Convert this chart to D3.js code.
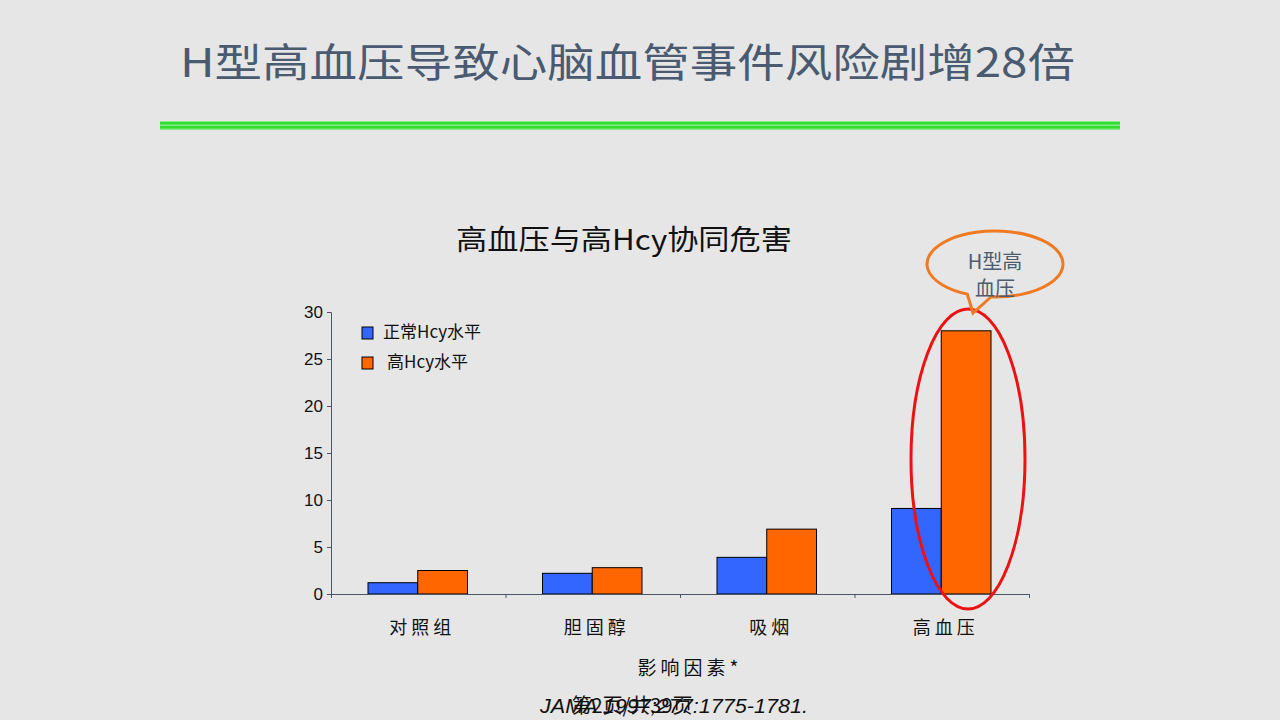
<!DOCTYPE html>
<html>
<head>
<meta charset="utf-8">
<script src="https://cdn.jsdelivr.net/npm/d3@7"></script>
<style>
  html, body { margin: 0; padding: 0; background: #e6e6e6; }
  svg { display: block; }
</style>
</head>
<body>
<svg id="chart" width="1280" height="720"></svg>
<script>
var categories = ["对照组", "胆固醇", "吸烟", "高血压"];
var seriesNames = ["正常Hcy水平", "高Hcy水平"];
var normalHcy = [1.2, 2.2, 3.9, 9.1];
var highHcy = [2.5, 2.8, 6.9, 28];
var yTicks = [0, 5, 10, 15, 20, 25, 30];
var colors = ["#3366ff", "#ff6600"];

const svg = d3.select("#chart");
const cjk = "'Noto Sans CJK SC', sans-serif";
const axisColor = "#4a5568";

svg.append("rect").attr("width", 1280).attr("height", 720).attr("fill", "#e6e6e6");

// Slide title
svg.append("text")
  .attr("x", 180).attr("y", 77)
  .attr("font-family", cjk)
  .attr("font-size", 40)
  .attr("fill", "#4a5a70")
  .attr("textLength", 895)
  .attr("lengthAdjust", "spacingAndGlyphs")
  .text("H型高血压导致心脑血管事件风险剧增28倍");

// Green rule
svg.append("rect").attr("x", 160).attr("y", 121).attr("width", 960).attr("height", 9).attr("fill", "#86ec86");
svg.append("rect").attr("x", 160).attr("y", 122).attr("width", 960).attr("height", 2.5).attr("fill", "#2fdc2f");
svg.append("rect").attr("x", 160).attr("y", 126).attr("width", 960).attr("height", 2.5).attr("fill", "#2fdc2f");

// Chart title
svg.append("text")
  .attr("x", 456).attr("y", 250)
  .attr("font-family", cjk)
  .attr("font-size", 28)
  .attr("fill", "#111")
  .attr("textLength", 336)
  .attr("lengthAdjust", "spacingAndGlyphs")
  .text("高血压与高Hcy协同危害");

// Scales
const x0 = d3.scaleBand().domain(categories).range([331, 1029]).paddingInner(0).paddingOuter(0);
const x1 = d3.scaleBand().domain([0, 1]).range([37, x0.bandwidth() - 38]);
const y = d3.scaleLinear().domain([0, 30]).range([594, 312]);

// Y axis
const yAxis = svg.append("g")
  .attr("transform", "translate(331,0)")
  .call(d3.axisLeft(y).tickValues(yTicks).tickSize(4).tickPadding(4));
yAxis.select(".domain").attr("stroke", axisColor);
yAxis.selectAll(".tick line").attr("stroke", axisColor);
yAxis.selectAll(".tick text")
  .attr("font-family", "'Liberation Sans', Arial, sans-serif")
  .attr("font-size", 17)
  .attr("fill", "#111");

// Bars
var rows = categories.map(function(c, i) { return { cat: c, vals: [normalHcy[i], highHcy[i]] }; });
const groups = svg.selectAll("g.grp")
  .data(rows)
  .enter()
  .append("g")
    .attr("class", "grp")
    .attr("transform", function(d) { return "translate(" + x0(d.cat) + ",0)"; });
groups.selectAll("rect")
  .data(function(d) { return d.vals; })
  .enter()
  .append("rect")
    .attr("x", function(d, i) { return x1(i); })
    .attr("y", function(d) { return y(d); })
    .attr("width", x1.bandwidth())
    .attr("height", function(d) { return y(0) - y(d); })
    .attr("fill", function(d, i) { return colors[i]; })
    .attr("stroke", "#000")
    .attr("stroke-width", 1);

// X axis
const xScaleLin = d3.scaleLinear().domain([0, categories.length]).range([331, 1029]);
const xAxis = svg.append("g")
  .attr("transform", "translate(0,594)")
  .call(d3.axisBottom(xScaleLin).tickValues(d3.range(categories.length + 1)).tickSize(4).tickFormat(""));
xAxis.select(".domain").attr("stroke", axisColor);
xAxis.selectAll(".tick line").attr("stroke", axisColor);

svg.selectAll("text.cat")
  .data(categories)
  .enter()
  .append("text")
    .attr("class", "cat")
    .attr("x", function(d) { return x0(d) + x0.bandwidth() / 2 + 4; })
    .attr("y", 634)
    .attr("text-anchor", "middle")
    .attr("font-family", cjk)
    .attr("font-size", 18)
    .attr("letter-spacing", 4)
    .attr("fill", "#111")
    .text(function(d) { return d; });

svg.append("text")
  .attr("x", 690).attr("y", 675)
  .attr("text-anchor", "middle")
  .attr("font-family", cjk)
  .attr("font-size", 19)
  .attr("letter-spacing", 4)
  .attr("fill", "#111")
  .text("影响因素*");

// Legend
const legend = svg.selectAll("g.leg")
  .data(seriesNames)
  .enter()
  .append("g")
    .attr("class", "leg")
    .attr("transform", function(d, i) { return "translate(362," + (327 + i * 30) + ")"; });
legend.append("rect")
  .attr("width", 11).attr("height", 12)
  .attr("fill", function(d, i) { return colors[i]; })
  .attr("stroke", "#000");
legend.append("text")
  .attr("x", function(d, i) { return i === 0 ? 21 : 25; })
  .attr("y", 11)
  .attr("font-family", cjk)
  .attr("font-size", 17)
  .attr("fill", "#111")
  .text(function(d) { return d; });

// Red ellipse highlight
svg.append("ellipse")
  .attr("cx", 968).attr("cy", 459)
  .attr("rx", 57).attr("ry", 150)
  .attr("fill", "none")
  .attr("stroke", "#ee1111")
  .attr("stroke-width", 3);

// Callout bubble
const cx = 995, cy = 264, rx = 68, ry = 33;
const a1 = Math.PI / 2 + 0.42, a2 = Math.PI / 2 + 0.06;
const p1 = [cx + rx * Math.cos(a1), cy + ry * Math.sin(a1)];
const p2 = [cx + rx * Math.cos(a2), cy + ry * Math.sin(a2)];
const bubble = "M" + p2[0] + "," + p2[1] +
  " A" + rx + "," + ry + " 0 1 0 " + p1[0] + "," + p1[1] +
  " L973,313 Z";
svg.append("path")
  .attr("d", bubble)
  .attr("fill", "none")
  .attr("stroke", "#f07a22")
  .attr("stroke-width", 3)
  .attr("stroke-linejoin", "miter");
svg.append("text")
  .attr("x", 995).attr("y", 269)
  .attr("text-anchor", "middle")
  .attr("font-family", cjk)
  .attr("font-size", 20)
  .attr("fill", "#4d5b6e")
  .text("H型高");
svg.append("text")
  .attr("x", 995).attr("y", 296)
  .attr("text-anchor", "middle")
  .attr("font-family", cjk)
  .attr("font-size", 20)
  .attr("fill", "#4d5b6e")
  .text("血压");

// Footer (overlapping texts as in the slide)
svg.append("text")
  .attr("x", 674).attr("y", 713)
  .attr("text-anchor", "middle")
  .attr("font-family", "'Liberation Sans', Arial, sans-serif")
  .attr("font-style", "italic")
  .attr("font-size", 20)
  .attr("fill", "#111")
  .attr("textLength", 268)
  .attr("lengthAdjust", "spacingAndGlyphs")
  .text("JAMA 1997;277:1775-1781.");
svg.append("text")
  .attr("x", 632).attr("y", 713)
  .attr("text-anchor", "middle")
  .attr("font-family", cjk)
  .attr("font-size", 20)
  .attr("fill", "#111")
  .text("第2页/共39页");
</script>
</body>
</html>
